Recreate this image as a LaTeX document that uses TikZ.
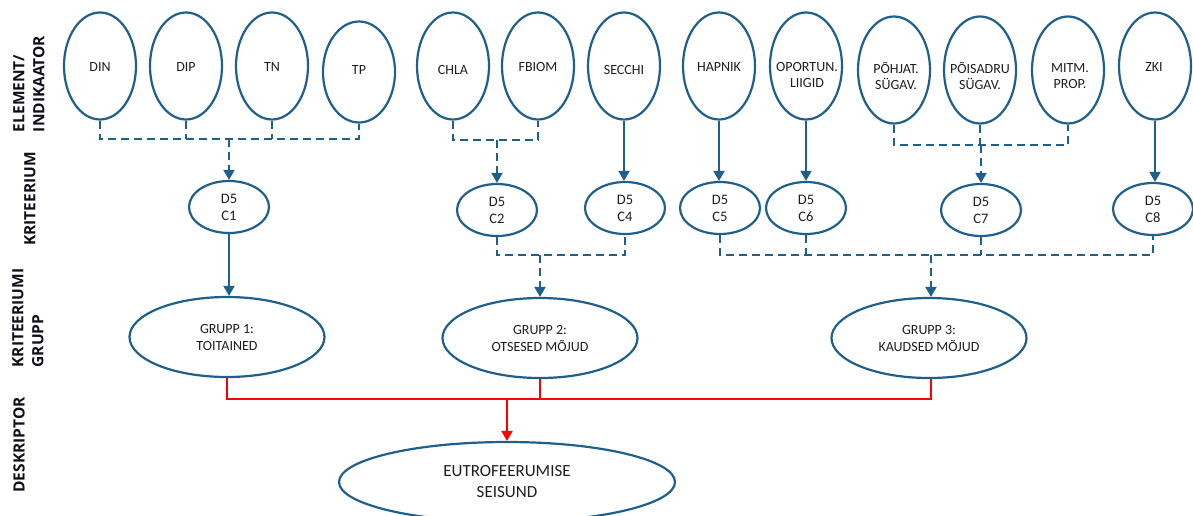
\documentclass[tikz,border=0pt]{standalone}
\usepackage{fontspec}
\setmainfont{Carlito}
\newfontfamily\sidefont{Open Sans}
\usetikzlibrary{shapes.geometric,arrows.meta}
\definecolor{eblue}{RGB}{31,95,140}
\definecolor{etext}{RGB}{30,30,30}
\definecolor{sidecol}{RGB}{15,15,25}
\definecolor{rline}{RGB}{255,0,0}
\begin{document}
\begin{tikzpicture}[x=1pt,y=-1pt,
  ell/.style={ellipse,draw=eblue,line width=2.2pt,inner sep=0pt},
  topell/.style={ell,minimum width=72pt,minimum height=107pt},
  critell/.style={ell,minimum width=80pt,minimum height=52pt,align=center,font=\fontsize{14.5}{17}\selectfont,text=etext},
  grpell/.style={ell,minimum width=195pt,minimum height=80pt,align=center,font=\fontsize{14}{17}\selectfont,text=etext},
  eutell/.style={ell,minimum width=336pt,minimum height=80pt,align=center,font=\fontsize{17}{21}\selectfont,text=etext},
  txt/.style={align=center,font=\fontsize{14}{16}\selectfont,text=etext,inner sep=0pt},
  side/.style={rotate=90,align=left,font=\sidefont\bfseries\fontsize{15.5}{20}\selectfont,text=sidecol,inner sep=0pt},
  link/.style={draw=eblue,line width=2pt},
  dlink/.style={link,dash pattern=on 8pt off 5pt},
  tip/.style={-{Triangle[width=11pt,length=10pt]}},
  rlink/.style={draw=rline,line width=2pt}
]
\useasboundingbox (0,0) rectangle (1193,515);

% side labels
\node[side] (s1) at (29,84) {ELEMENT/\\INDIKAATOR};
\node[side] (s2) at (30,199) {KRITEERIUM};
\node[side] (s3) at (28,318) {KRITEERIUMI\\GRUPP};
\node[side] (s4) at (19,445) {DESKRIPTOR};

% top row ellipses
\node[topell] (din) at (100,66) {};
\node[topell] (dip) at (186,66) {};
\node[topell] (tn) at (272,66) {};
\node[topell,minimum height=101pt] (tp) at (359,72) {};
\node[topell] (chla) at (453,66) {};
\node[topell] (fbiom) at (538,66) {};
\node[topell] (secchi) at (624,66) {};
\node[topell] (hapnik) at (719,66) {};
\node[topell] (oport) at (806,66) {};
\node[topell] (pohjat) at (894,70) {};
\node[topell] (poisadru) at (980,70) {};
\node[topell] (mitm) at (1068,70) {};
\node[topell] (zki) at (1155,66) {};

% top row texts
\node[txt] (tdin) at (100,67) {DIN};
\node[txt] (tdip) at (186,67) {DIP};
\node[txt] (ttn) at (272,67) {TN};
\node[txt] (ttp) at (359,70) {TP};
\node[txt] (tchla) at (453,70) {CHLA};
\node[txt] (tfbiom) at (538,67) {FBIOM};
\node[txt] (tsecchi) at (624,70) {SECCHI};
\node[txt] (thapnik) at (719,67) {HAPNIK};
\node[txt] (toport) at (807,75) {OPORTUN.\\LIIGID};
\node[txt] (tpohjat) at (896,76) {PÕHJAT.\\SÜGAV.};
\node[txt] (tpoisadru) at (980,76) {PÕISADRU\\SÜGAV.};
\node[txt] (tmitm) at (1070,76) {MITM.\\PROP.};
\node[txt] (tzki) at (1154,67) {ZKI};

% criteria
\node[critell] (c1) at (229,207) {D5\\C1};
\node[critell] (c2) at (497,210) {D5\\C2};
\node[critell] (c4) at (625,208) {D5\\C4};
\node[critell] (c5) at (720,208) {D5\\C5};
\node[critell] (c6) at (806,208) {D5\\C6};
\node[critell] (c7) at (981,210) {D5\\C7};
\node[critell] (c8) at (1153,209) {D5\\C8};

% groups
\node[grpell] (g1) at (227,337) {GRUPP 1:\\TOITAINED};
\node[grpell] (g2) at (540,338) {GRUPP 2:\\OTSESED MÕJUD};
\node[grpell] (g3) at (929,338) {GRUPP 3:\\KAUDSED MÕJUD};

% descriptor
\node[eutell] (eu) at (507,482) {EUTROFEERUMISE\\SEISUND};

% helper levels
\coordinate (b1) at (0,139);
\coordinate (b2) at (0,140);
\coordinate (b5) at (0,145);
\coordinate (b3) at (0,255);
\coordinate (b4) at (0,399);

% group 1 (nutrients)
\draw[dlink] (din.south) -- (din.south |- b1) -- (tp.south |- b1) -- (tp.south);
\draw[dlink] (dip.south) -- (dip.south |- b1);
\draw[dlink] (tn.south) -- (tn.south |- b1);
\draw[dlink,tip] (c1.north |- b1) -- (c1.north);

% CHLA + FBIOM -> C2
\draw[dlink] (chla.south) -- (chla.south |- b2) -- (fbiom.south |- b2) -- (fbiom.south);
\draw[dlink,tip] (c2.north |- b2) -- (c2.north);

% single arrows
\draw[link,tip] (secchi.south) -- (secchi.south |- c4.north);
\draw[link,tip] (hapnik.south) -- (hapnik.south |- c5.north);
\draw[link,tip] (oport.south) -- (oport.south |- c6.north);
\draw[link,tip] (zki.south) -- (zki.south |- c8.north);

% C7 tree
\draw[dlink] (pohjat.south) -- (pohjat.south |- b5) -- (mitm.south |- b5) -- (mitm.south);
\draw[dlink] (poisadru.south) -- (poisadru.south |- b5);
\draw[dlink,tip] (c7.north |- b5) -- (c7.north);

% criteria -> groups
\draw[link,tip] (c1.south) -- (c1.south |- g1.north);
\draw[dlink] (c2.south) -- (c2.south |- b3) -- (c4.south |- b3) -- (c4.south);
\draw[dlink,tip] (g2.north |- b3) -- (g2.north);
\draw[dlink] (c5.south) -- (c5.south |- b3) -- (c8.south |- b3) -- (c8.south);
\draw[dlink] (c6.south) -- (c6.south |- b3);
\draw[dlink] (c7.south) -- (c7.south |- b3);
\draw[dlink,tip] ([xshift=2pt]g3.north |- b3) -- ([xshift=2pt]g3.north);

% groups -> descriptor
\draw[rlink] (g1.south) -- (g1.south |- b4) -- ([xshift=2pt]g3.south |- b4) -- ([xshift=2pt]g3.south);
\draw[rlink] (g2.south) -- (g2.south |- b4);
\draw[rlink,tip] (eu.north |- b4) -- (eu.north);
\end{tikzpicture}
\end{document}
